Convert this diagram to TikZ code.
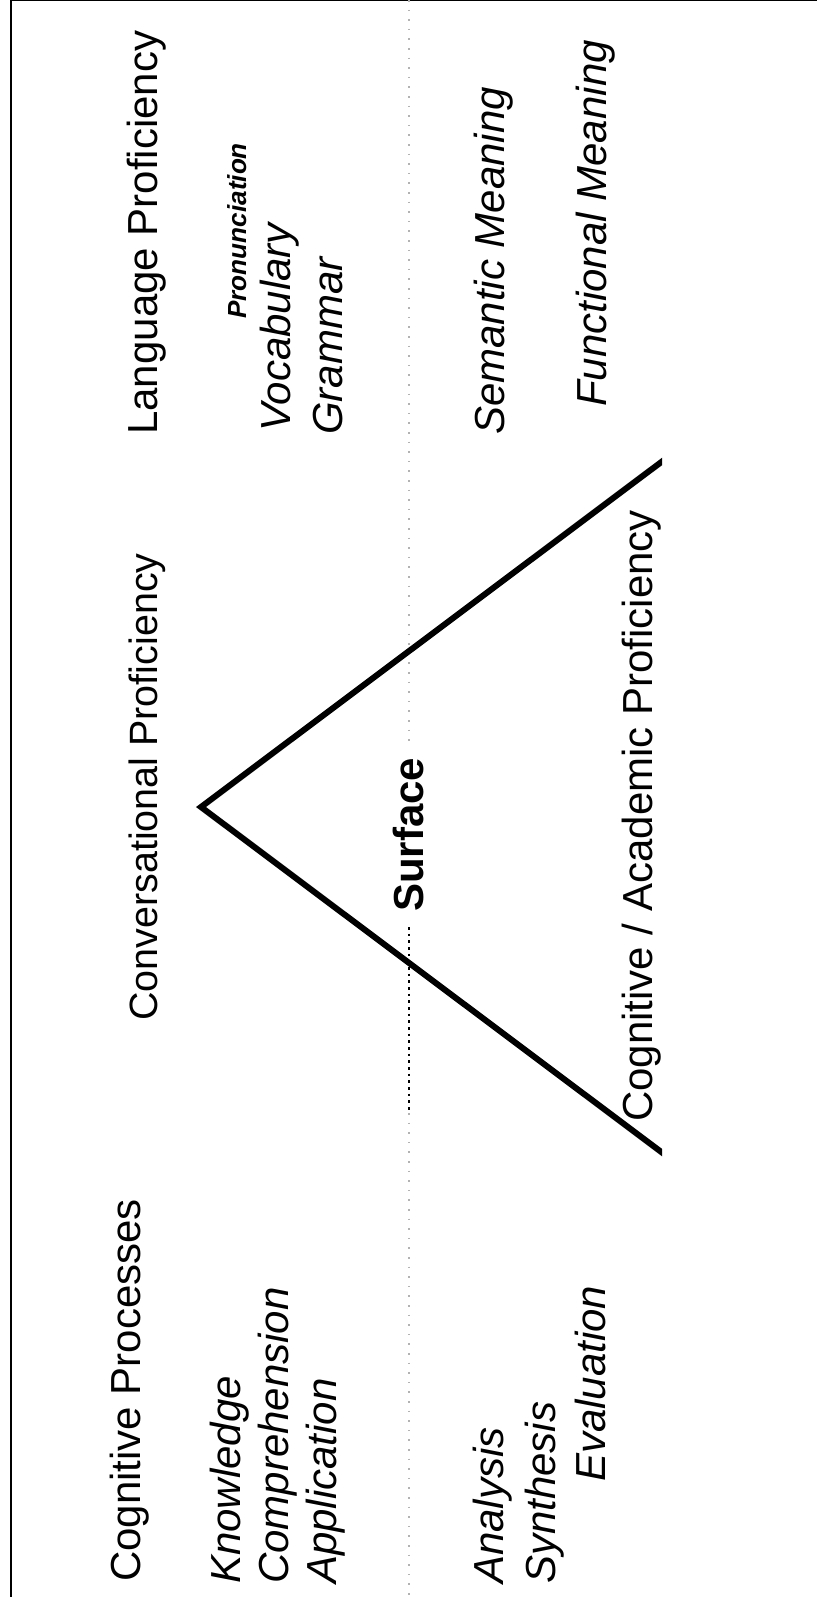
\documentclass[tikz,border=0pt]{standalone}
\usepackage{fontspec}
\setmainfont{Liberation Sans}
\begin{document}
\begin{tikzpicture}[x=0.75pt,y=-0.75pt,
  lbl/.style={rotate=90,anchor=base west,inner sep=0pt,font=\fontsize{31.5}{36}\selectfont},
  itl/.style={lbl,font=\fontsize{31.5}{36}\selectfont\itshape},
  small/.style={lbl,font=\fontsize{19.6}{23}\selectfont\bfseries\itshape},
  boldlbl/.style={lbl,font=\fontsize{31.5}{36}\selectfont\bfseries},
  frame/.style={line width=1pt,black},
  vline/.style={line width=4.5pt,black,line join=miter},
  graydots/.style={line width=1.2pt,gray!60,dash pattern=on 1.2pt off 6pt},
  blackdash/.style={line width=1.2pt,black,dash pattern=on 2pt off 3pt}]
\useasboundingbox (0,0) rectangle (817,1597);

% frame (top and left edges)
\draw[frame] (11,1597) -- (11,0.5) -- (817,0.5);

% surface line
\coordinate (s0) at (409,0);
\coordinate (s1) at (409,742);
\coordinate (s2) at (409,927);
\coordinate (s3) at (409,1113);
\coordinate (s4) at (409,1597);
\draw[graydots] (s0) -- (s1);
\draw[blackdash] (s2) -- (s3);
\draw[graydots] (s3) -- (s4);

% the V of proficiency
\coordinate (vt) at (680,448);
\coordinate (apex) at (201,807);
\coordinate (vb) at (680,1166);
\begin{scope}
  \clip (0,0) rectangle (662,1597);
  \draw[vline] (vt) -- (apex) -- (vb);
\end{scope}

% headings
\node[lbl] (lang) at (157,435) {Language Proficiency};
\node[lbl,anchor=base,font=\fontsize{29.6}{34}\selectfont] (conv) at (157,787) {Conversational Proficiency};
\node[lbl] (cogp) at (140,1582) {Cognitive Processes};

% language side
\node[small] (pron) at (246,319) {Pronunciation};
\node[itl] (voc) at (290,432) {Vocabulary};
\node[itl] (gram) at (342,435) {Grammar};
\node[itl] (sem) at (504,435) {Semantic Meaning};
\node[itl] (func) at (606,407) {Functional Meaning};

% cognitive side
\node[itl] (know) at (240,1584) {Knowledge};
\node[itl] (comp) at (288,1584) {Comprehension};
\node[itl] (appl) at (336,1584) {Application};
\node[itl] (anal) at (503,1584) {Analysis};
\node[itl] (synt) at (555,1584) {Synthesis};
\node[itl] (eval) at (605,1482) {Evaluation};

% middle labels
\node[boldlbl] (surf) at (423,912) {Surface};
\node[lbl] (cap) at (652,1122) {Cognitive / Academic Proficiency};
\end{tikzpicture}
\end{document}
